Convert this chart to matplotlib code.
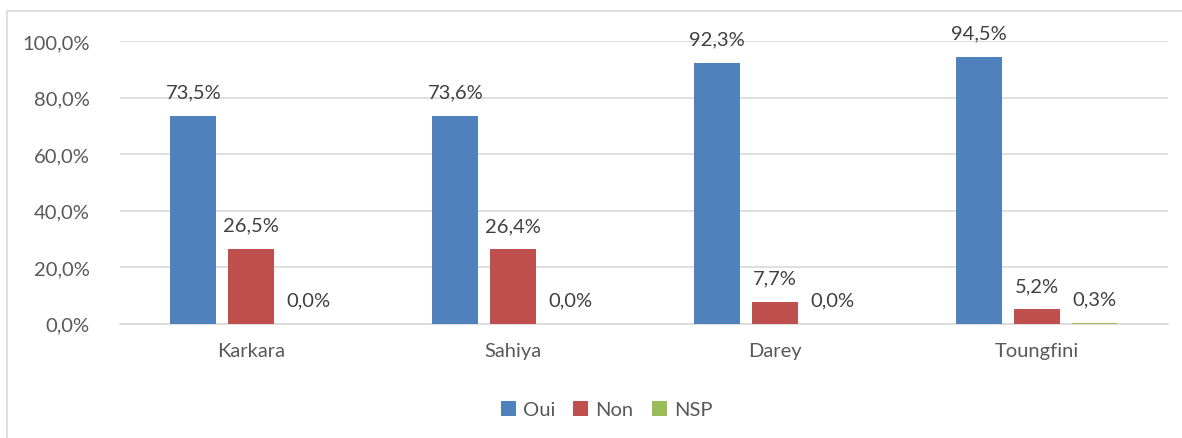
import matplotlib.pyplot as plt
import numpy as np
from matplotlib.patches import Rectangle

plt.rcParams['font.family'] = ['Lato', 'DejaVu Sans']

# === Data ===
categories = ["Karkara", "Sahiya", "Darey", "Toungfini"]
series_names = ["Oui", "Non", "NSP"]
oui = [73.5, 73.6, 92.3, 94.5]
non = [26.5, 26.4, 7.7, 5.2]
nsp = [0.0, 0.0, 0.0, 0.3]
colors = ["#4f81bd", "#c0504d", "#9bbb59"]
yticks = [0, 20, 40, 60, 80, 100]

FS = 14.5


def fmt(v):
    return f"{v:.1f}%".replace(".", ",")


fig = plt.figure(figsize=(11.82, 4.39), dpi=100)
ax = fig.add_axes([0.1015, 0.26, 0.8865, 0.644])

# outer chart border
fig.patches.append(Rectangle((7 / 1182, -0.01), 1.2, 1 - 12 / 439 + 0.01,
                             transform=fig.transFigure, fill=False,
                             edgecolor="#d9d9d9", linewidth=1.2))

x = np.arange(len(categories))
width = 0.175
offset = 0.22
for i, (name, vals) in enumerate(zip(series_names, [oui, non, nsp])):
    pos = x + (i - 1) * offset
    ax.bar(pos, vals, width, color=colors[i], label=name, zorder=3)
    for xp, v in zip(pos, vals):
        ax.annotate(fmt(v), (xp, v), xytext=(0, 11), textcoords="offset points",
                    ha="center", va="bottom", fontsize=FS, color="#404040",
                    annotation_clip=False)

ax.set_xlim(-0.5, len(categories) - 0.5)
ax.set_ylim(0, 100)
ax.set_yticks(yticks)
ax.set_yticklabels([fmt(t) for t in yticks], fontsize=FS, color="#595959")
ax.set_xticks(x)
ax.set_xticklabels(categories, fontsize=FS, color="#595959")
ax.tick_params(axis="both", length=0)
ax.tick_params(axis="y", pad=22)
ax.tick_params(axis="x", pad=13)
ax.grid(axis="y", color="#d9d9d9", linewidth=1.2, zorder=0)
for s in ["left", "right", "top"]:
    ax.spines[s].set_visible(False)
ax.spines["bottom"].set_color("#d9d9d9")
ax.spines["bottom"].set_linewidth(1.2)

ax.legend(loc="center", bbox_to_anchor=(0.513, 0.065), bbox_transform=fig.transFigure,
          ncol=3, frameon=False, fontsize=FS, handlelength=0.75, handleheight=0.75,
          columnspacing=0.9, handletextpad=0.35, labelcolor="#595959")

fig.savefig("out.png", dpi=100)
